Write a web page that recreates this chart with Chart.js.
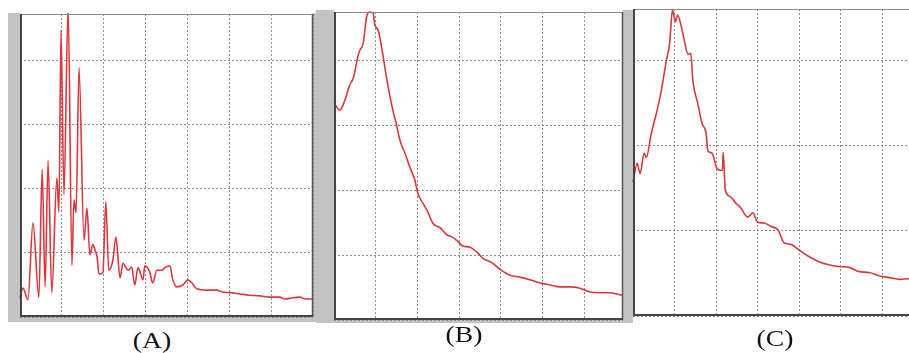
<!DOCTYPE html>
<html>
<head>
<meta charset="utf-8">
<script src="https://cdn.jsdelivr.net/npm/chart.js@4/dist/chart.umd.min.js"></script>
<style>
  html, body { margin:0; padding:0; background:#fff; width:909px; height:353px; overflow:hidden; position:relative; }
  .gray { position:absolute; background:#c3c3c3; }
  .box { position:absolute; }
  .lbl { position:absolute; font-family:"Liberation Serif","DejaVu Serif",serif; font-size:24px; line-height:28px; color:#111; text-align:center; width:80px; transform:scaleX(1.15); }
</style>
</head>
<body>
<!-- decorative grey frame strips of the scanned instrument screens -->
<div class="gray" style="left:8px;top:13px;width:12px;height:309px;"></div>
<div class="gray" style="left:8px;top:317px;width:308px;height:5px;"></div>
<div class="gray" style="left:313px;top:13px;width:3px;height:309px;"></div>
<div class="gray" style="left:316px;top:10px;width:18px;height:313px;"></div>
<div class="gray" style="left:316px;top:320px;width:312px;height:3px;"></div>
<div class="gray" style="left:623px;top:10px;width:10px;height:313px;"></div>

<div class="box" style="left:18px;top:12px;width:297px;height:307px;"><canvas id="cA"></canvas></div>
<div class="box" style="left:332px;top:10px;width:293px;height:312px;"><canvas id="cB"></canvas></div>
<div class="box" style="left:631px;top:7px;width:295px;height:311px;"><canvas id="cC"></canvas></div>

<div class="lbl" style="left:112px;top:326px;">(A)</div>
<div class="lbl" style="left:424px;top:320px;">(B)</div>
<div class="lbl" style="left:735px;top:324px;">(C)</div>

<script>
// ---- Panel A (grid-division units) ----
const aX = [0.00,0.07,0.19,0.31,0.45,0.53,0.60,0.67,0.76,0.88,0.93,0.98,1.05,1.15,1.24,1.29,1.34,1.41,1.53,1.60,1.67,1.74,1.79,1.84,1.89,1.98,2.05,2.12,2.22,2.29,2.39,2.46,2.58,2.67,2.74,2.82,2.94,2.98,3.10,3.17,3.27,3.39,3.46,3.58,3.65,3.75,3.89,4.01,4.11,4.22,4.46,4.70,4.84,5.01,5.25,5.49,5.73,5.97,6.21,6.32,6.52,6.68,6.83,6.99];
const aY = [0.30,0.45,0.27,1.47,0.31,2.30,0.47,2.44,0.38,2.17,1.64,4.48,1.91,4.85,0.81,1.83,1.63,3.89,1.20,1.70,0.97,1.13,1.05,0.94,0.67,0.69,1.80,0.73,0.89,1.25,0.61,0.84,0.73,0.78,0.50,0.77,0.58,0.80,0.70,0.53,0.73,0.73,0.77,0.80,0.58,0.47,0.50,0.58,0.53,0.44,0.42,0.42,0.39,0.38,0.36,0.34,0.33,0.31,0.31,0.28,0.30,0.31,0.28,0.28];

// ---- Panel B ----
const bX = [0.00,0.14,0.26,0.38,0.46,0.60,0.70,0.79,0.86,0.94,0.98,1.06,1.18,1.27,1.41,1.49,1.58,1.70,1.82,1.94,2.01,2.13,2.23,2.37,2.54,2.71,2.83,2.95,3.09,3.26,3.45,3.57,3.79,3.98,4.22,4.46,4.70,4.94,5.18,5.42,5.66,5.90,6.14,6.38,6.62,6.91];
const bY = [3.34,3.23,3.38,3.62,3.72,4.12,4.26,4.69,4.74,4.72,4.54,4.46,4.05,3.69,3.23,3.03,2.77,2.57,2.35,2.15,1.95,1.80,1.69,1.49,1.42,1.31,1.28,1.22,1.14,1.12,1.03,0.95,0.88,0.78,0.69,0.66,0.62,0.57,0.54,0.51,0.51,0.49,0.43,0.42,0.42,0.38];

// ---- Panel C ----
const cX = [0.00,0.10,0.17,0.27,0.32,0.44,0.56,0.68,0.80,0.88,0.95,1.02,1.07,1.15,1.24,1.32,1.39,1.44,1.56,1.66,1.76,1.80,1.90,2.02,2.10,2.15,2.17,2.22,2.34,2.46,2.59,2.76,2.88,3.00,3.15,3.32,3.49,3.63,3.80,3.98,4.22,4.46,4.71,4.95,5.20,5.44,5.68,5.93,6.17,6.41,6.68];
const cY = [1.57,1.79,1.67,1.91,1.86,2.14,2.37,2.64,2.99,3.19,3.59,3.45,3.53,3.42,3.22,3.07,3.08,2.76,2.49,2.26,2.14,1.94,1.91,1.73,1.71,1.71,1.92,1.48,1.40,1.33,1.27,1.16,1.21,1.10,1.09,1.05,1.01,0.86,0.84,0.78,0.70,0.64,0.60,0.58,0.57,0.52,0.51,0.47,0.45,0.43,0.44];

const panelLimits = { A:{xMax:7, yMax:4.73}, B:{xMax:6.93, yMax:4.74}, C:{xMax:7, yMax:3.6} };

const framePlugin = {
  id: 'frame',
  afterDraw(chart) {
    const {ctx, chartArea:{left,right,top,bottom}} = chart;
    ctx.save();
    ctx.strokeStyle = '#8a8a8a'; ctx.lineWidth = 1;
    ctx.beginPath(); ctx.moveTo(left, top+0.5); ctx.lineTo(right, top+0.5); ctx.stroke();
    ctx.strokeStyle = '#555'; ctx.lineWidth = 1.5;
    ctx.beginPath(); ctx.moveTo(right-0.5, top); ctx.lineTo(right-0.5, bottom); ctx.stroke();
    ctx.strokeStyle = '#444'; ctx.lineWidth = 2;
    ctx.beginPath(); ctx.moveTo(left+1, top); ctx.lineTo(left+1, bottom-1); ctx.lineTo(right, bottom-1); ctx.stroke();
    ctx.restore();
  }
};

function makeChart(id, xs, ys, lim) {
  const pts = xs.map((x,i)=>({x, y: ys[i]}));
  const axisCommon = {
    type:'linear', min:0,
    ticks:{ display:false, stepSize:1, includeBounds:false },
    grid:{ color:'#8c8c8c', lineWidth:1, drawTicks:false },
    border:{ display:false, dash:[2,2] }
  };
  return new Chart(document.getElementById(id), {
    type:'scatter',
    data:{ datasets:[{ data:pts, showLine:true, borderColor:'#d8393f', borderWidth:1.6, pointRadius:0, tension:0.35, cubicInterpolationMode:'monotone', clip:1 }] },
    options:{
      responsive:true, maintainAspectRatio:false, animation:false,
      layout:{ padding:2, autoPadding:false },
      plugins:{ legend:{display:false}, tooltip:{enabled:false} },
      scales:{
        x:Object.assign({}, axisCommon, { max:lim.xMax }),
        y:Object.assign({}, axisCommon, { max:lim.yMax })
      }
    },
    plugins:[framePlugin]
  });
}
makeChart('cA', aX, aY, panelLimits.A);
makeChart('cB', bX, bY, panelLimits.B);
makeChart('cC', cX, cY, panelLimits.C);
</script>
</body>
</html>
